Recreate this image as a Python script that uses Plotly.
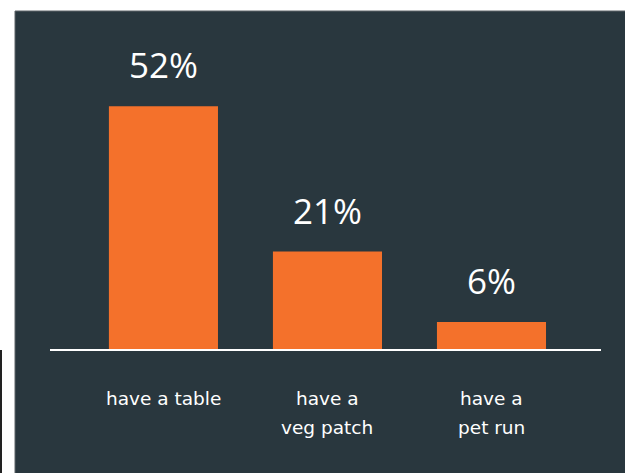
import plotly.graph_objects as go

# Share of respondents for each garden feature
categories = ["have a table", "have a<br>veg patch", "have a<br>pet run"]
values = [52, 21, 6]
value_labels = ["52%", "21%", "6%"]

BG = "#29373e"
ORANGE = "#f4712b"
VALUE_FONT = "Open Sans"
LABEL_FONT = "DejaVu Sans"

fig = go.Figure(
    go.Bar(
        x=list(range(len(categories))),
        y=values,
        marker=dict(color=ORANGE, line=dict(width=0)),
        width=0.665,
        hoverinfo="skip",
    )
)

annotations = []
for i, (v, lab) in enumerate(zip(values, value_labels)):
    annotations.append(dict(
        x=i, y=v, xref="x", yref="y", text=lab, showarrow=False,
        yanchor="bottom", yshift=16,
        font=dict(family=VALUE_FONT, size=35, color="white"),
    ))
    for j, line in enumerate(categories[i].split("<br>")):
        annotations.append(dict(
            x=i, y=-10.4 - j * 6.1, xref="x", yref="y", text=line, showarrow=False,
            yanchor="middle",
            font=dict(family=LABEL_FONT, size=18.5, color="white"),
        ))

shapes = [
    # baseline under the bars
    dict(type="line", xref="paper", yref="y", x0=(50 - 15) / 610, x1=(601 - 15) / 610,
         y0=0, y1=0, line=dict(color="white", width=2), layer="above"),
    # panel edges
    dict(type="line", xref="paper", yref="paper", x0=0, x1=0, y0=0, y1=1,
         line=dict(color="#5e6569", width=1)),
    dict(type="line", xref="paper", yref="paper", x0=0, x1=1, y0=1, y1=1,
         line=dict(color="#5e6569", width=1)),
    # dark rule at the far left
    dict(type="line", xref="paper", yref="paper", x0=-14 / 610, x1=-14 / 610,
         y0=0, y1=(473 - 350) / 462, line=dict(color="#222222", width=2)),
]

fig.update_layout(
    width=625, height=473,
    margin=dict(l=15, r=0, t=11, b=0),
    paper_bgcolor="white",
    plot_bgcolor=BG,
    showlegend=False,
    xaxis=dict(range=[-0.905, 2.814], visible=False, fixedrange=True),
    yaxis=dict(range=[-26.2, 72.3], visible=False, fixedrange=True),
    annotations=annotations,
    shapes=shapes,
)

fig.write_html("out.html", config={"displayModeBar": False})
